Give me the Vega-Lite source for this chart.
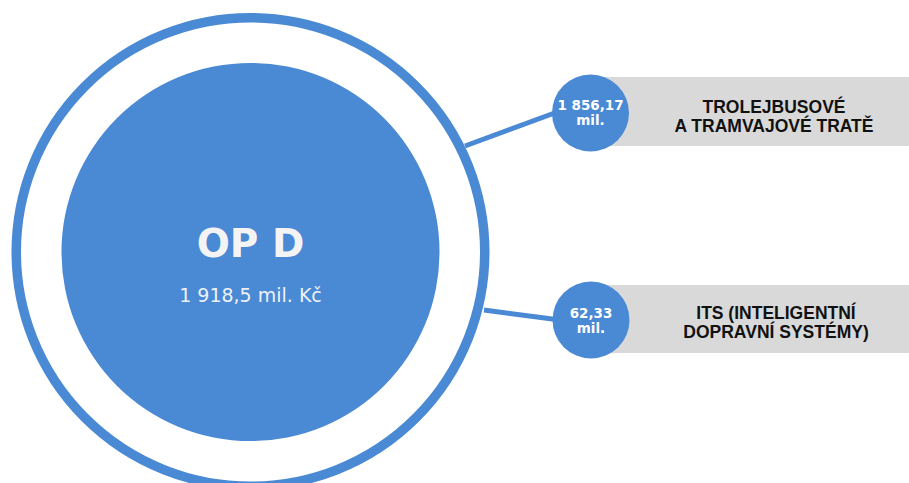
{
  "$schema": "https://vega.github.io/schema/vega-lite/v6.json",
  "width": 909,
  "height": 483,
  "padding": 0,
  "autosize": "none",
  "background": "white",
  "config": {"view": {"stroke": null}},
  "datasets": {
    "bands": [
      {"item": "TROLEJBUSOVÉ A TRAMVAJOVÉ TRATĚ", "x0": 590, "x1": 909, "y0": 77, "y1": 146},
      {"item": "ITS (INTELIGENTNÍ DOPRAVNÍ SYSTÉMY)", "x0": 590, "x1": 909, "y0": 285, "y1": 353}
    ],
    "links": [
      {"item": "TROLEJBUSOVÉ A TRAMVAJOVÉ TRATĚ", "xa": 465, "ya": 146, "xb": 560, "yb": 111},
      {"item": "ITS (INTELIGENTNÍ DOPRAVNÍ SYSTÉMY)", "xa": 484, "ya": 310, "xb": 560, "yb": 320}
    ],
    "total": [
      {"name": "OP D", "value": "1 918,5 mil. Kč", "x": 250.5, "y": 252}
    ],
    "parts": [
      {"item": "TROLEJBUSOVÉ\nA TRAMVAJOVÉ TRATĚ", "amount": "1 856,17\nmil.", "cx": 590.5, "cy": 113, "ty": 110, "lx": 774, "ly": 113},
      {"item": "ITS (INTELIGENTNÍ\nDOPRAVNÍ SYSTÉMY)", "amount": "62,33\nmil.", "cx": 591, "cy": 320, "ty": 318, "lx": 776, "ly": 319}
    ]
  },
  "layer": [
    {
      "data": {"name": "bands"},
      "mark": {"type": "rect", "color": "#d9d9d9"},
      "encoding": {
        "x": {"field": "x0", "type": "quantitative", "scale": {"domain": [0, 909], "nice": false, "zero": false}, "axis": null},
        "x2": {"field": "x1"},
        "y": {"field": "y0", "type": "quantitative", "scale": {"domain": [0, 483], "nice": false, "zero": false, "reverse": true}, "axis": null},
        "y2": {"field": "y1"}
      }
    },
    {
      "data": {"name": "links"},
      "mark": {"type": "rule", "color": "#4a89d4", "strokeWidth": 5},
      "encoding": {
        "x": {"field": "xa", "type": "quantitative", "axis": null},
        "x2": {"field": "xb"},
        "y": {"field": "ya", "type": "quantitative", "axis": null},
        "y2": {"field": "yb"}
      }
    },
    {
      "data": {"name": "total"},
      "mark": {"type": "point", "shape": "circle", "filled": false, "size": 219492, "stroke": "#4a89d4", "strokeWidth": 9.5, "opacity": 1},
      "encoding": {
        "x": {"field": "x", "type": "quantitative", "axis": null},
        "y": {"field": "y", "type": "quantitative", "axis": null}
      }
    },
    {
      "data": {"name": "total"},
      "mark": {"type": "point", "shape": "circle", "filled": true, "size": 142884, "color": "#4a89d4", "opacity": 1},
      "encoding": {
        "x": {"field": "x", "type": "quantitative", "axis": null},
        "y": {"field": "y", "type": "quantitative", "axis": null}
      }
    },
    {
      "data": {"name": "total"},
      "mark": {"type": "text", "font": "DejaVu Sans", "fontWeight": "bold", "fontSize": 39, "color": "#f4f4f4", "align": "center", "baseline": "alphabetic", "dy": 5},
      "encoding": {
        "x": {"field": "x", "type": "quantitative", "axis": null},
        "y": {"field": "y", "type": "quantitative", "axis": null},
        "text": {"field": "name"}
      }
    },
    {
      "data": {"name": "total"},
      "mark": {"type": "text", "font": "DejaVu Sans", "fontSize": 19, "color": "#eef2f8", "align": "center", "baseline": "alphabetic", "dy": 50},
      "encoding": {
        "x": {"field": "x", "type": "quantitative", "axis": null},
        "y": {"field": "y", "type": "quantitative", "axis": null},
        "text": {"field": "value"}
      }
    },
    {
      "data": {"name": "parts"},
      "mark": {"type": "point", "shape": "circle", "filled": true, "size": 5929, "color": "#4a89d4", "opacity": 1},
      "encoding": {
        "x": {"field": "cx", "type": "quantitative", "axis": null},
        "y": {"field": "cy", "type": "quantitative", "axis": null}
      }
    },
    {
      "data": {"name": "parts"},
      "mark": {"type": "text", "font": "DejaVu Sans", "fontWeight": "bold", "fontSize": 13.5, "color": "#ffffff", "align": "center", "baseline": "alphabetic", "lineBreak": "\n", "lineHeight": 15},
      "encoding": {
        "x": {"field": "cx", "type": "quantitative", "axis": null},
        "y": {"field": "ty", "type": "quantitative", "axis": null},
        "text": {"field": "amount"}
      }
    },
    {
      "data": {"name": "parts"},
      "mark": {"type": "text", "font": "Liberation Sans", "fontWeight": "bold", "fontSize": 17.5, "color": "#111111", "align": "center", "baseline": "alphabetic", "lineBreak": "\n", "lineHeight": 19},
      "encoding": {
        "x": {"field": "lx", "type": "quantitative", "axis": null},
        "y": {"field": "ly", "type": "quantitative", "axis": null},
        "text": {"field": "item"}
      }
    }
  ]
}
